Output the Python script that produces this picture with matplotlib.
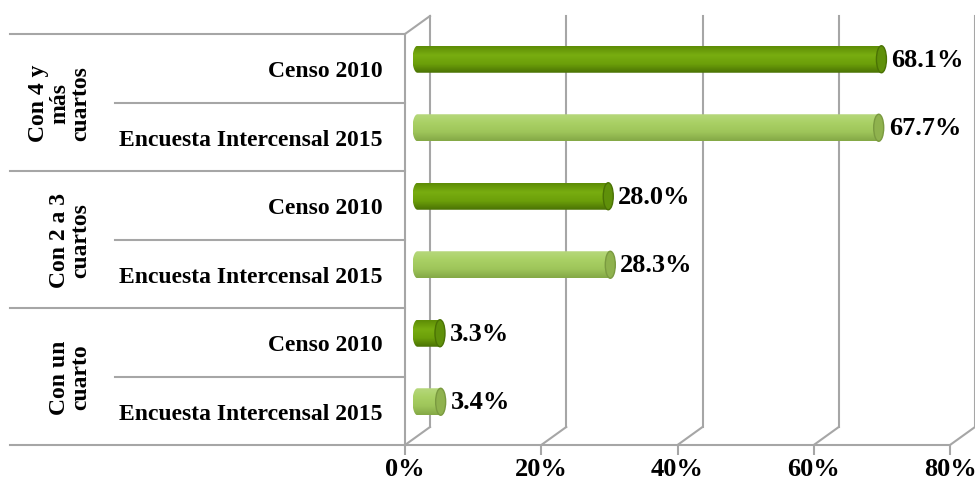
import numpy as np
import matplotlib.pyplot as plt
from matplotlib.patches import Ellipse, Polygon
from matplotlib.colors import LinearSegmentedColormap

# datos del grafico
grupos = ['Con 4 y\nmás\ncuartos', 'Con 2 a 3\ncuartos', 'Con un\ncuarto']
fuentes = ['Censo 2010', 'Encuesta Intercensal 2015']
censo_2010 = [68.1, 28.0, 3.3]
intercensal_2015 = [67.7, 28.3, 3.4]
ticks_x = [0, 20, 40, 60, 80]

plt.rcParams['font.family'] = ['Liberation Serif', 'DejaVu Serif']
plt.rcParams['font.weight'] = 'bold'

fig = plt.figure(figsize=(9.75, 4.85), dpi=100)
ax = fig.add_axes([405 / 975, 39 / 485, 545 / 975, 411 / 485])

n_filas = 2 * len(grupos)
ax.set_xlim(0, 80)
ax.set_ylim(0, n_filas)

# escala en pixeles para el efecto 3D
px_x = 545 / 80
px_y = 411 / n_filas
dx = 25 / px_x
dy = 18 / px_y
gris = '#a6a6a6'

# pared del fondo y piso
for t in ticks_x:
    ax.plot([t + dx, t + dx], [dy, n_filas + dy], color=gris, lw=1.5, clip_on=False, zorder=1)
    ax.plot([t, t + dx], [0, dy], color=gris, lw=1.5, clip_on=False, zorder=1)
ax.plot([0, dx], [n_filas, n_filas + dy], color=gris, lw=1.5, clip_on=False, zorder=1)

# tabla de categorias a la izquierda
x_ext = (10 - 405) / px_x
x_int = (115 - 405) / px_x
for k in range(n_filas + 1):
    x_ini = x_ext if k % 2 == 0 else x_int
    ax.plot([x_ini, 0], [k, k], color=gris, lw=1.5, clip_on=False)

filas_censo = [n_filas - 0.5 - 2 * i for i in range(len(grupos))]
filas_inter = [n_filas - 1.5 - 2 * i for i in range(len(grupos))]

for i, g in enumerate(grupos):
    ax.text((91 - 405) / px_x, n_filas - 1 - 2 * i, g, rotation=90, ha='right', va='center',
            multialignment='center', fontsize=17, linespacing=1.0, clip_on=False)

# cilindros
alto = 27 / px_y
a = 5 / px_x
oscuro = ['#5d8c06', '#78ad10', '#6c9f0a', '#4a7204']
claro = ['#b6d87c', '#a9d064', '#9ec55a', '#84a846']


def cilindro(rect, colores, tapa, borde):
    x0 = rect.get_x()
    x1 = x0 + rect.get_width()
    y0 = rect.get_y()
    y1 = y0 + rect.get_height()
    yc = (y0 + y1) / 2
    b = (y1 - y0) / 2
    t = np.linspace(np.pi / 2, 3 * np.pi / 2, 40)
    pts = np.column_stack([x0 + a * np.cos(t), yc + b * np.sin(t)])
    pts = np.vstack([pts, [[x1, y0], [x1, y1]]])
    clip = Polygon(pts, closed=True, transform=ax.transData, facecolor='none', edgecolor='none')
    ax.add_patch(clip)
    cmap = LinearSegmentedColormap.from_list('c', colores)
    grad = np.linspace(0, 1, 100).reshape(-1, 1)
    im = ax.imshow(grad, cmap=cmap, extent=[x0 - a, x1, y0, y1], origin='upper',
                   aspect='auto', interpolation='bilinear', zorder=3)
    im.set_clip_path(clip)
    ax.add_patch(Ellipse((x1, yc), 2 * a, 2 * b, facecolor=tapa, edgecolor=borde, lw=1, zorder=4))
    rect.set_visible(False)
    return x1 + a


for filas, valores, colores, tapa, borde in [
        (filas_censo, censo_2010, oscuro, '#5f900a', '#4a7204'),
        (filas_inter, intercensal_2015, claro, '#8fb24e', '#7a9a40')]:
    ys = [f + dy / 2 for f in filas]
    barras = ax.barh(ys, valores, left=dx / 2, height=alto, color=colores[1], zorder=3)
    for rect, v, y in zip(barras, valores, ys):
        fin = cilindro(rect, colores, tapa, borde)
        ax.text(fin + 5 / px_x, y, f'{v:.1f}%', ha='left', va='center', fontsize=19, clip_on=False)

ax.set_xlim(0, 80)
ax.set_ylim(0, n_filas)

# ejes
ax.set_xticks(ticks_x, [f'{t}%' for t in ticks_x])
ax.set_yticks(filas_censo + filas_inter, [fuentes[0]] * len(grupos) + [fuentes[1]] * len(grupos))
ax.tick_params(axis='x', length=7, width=1.5, color=gris, labelsize=19, pad=2)
ax.tick_params(axis='y', length=0, labelsize=17, pad=16)
for s in ['top', 'right']:
    ax.spines[s].set_visible(False)
for s in ['bottom', 'left']:
    ax.spines[s].set_color(gris)
    ax.spines[s].set_linewidth(1.5)
ax.set_facecolor('none')

fig.savefig('out.png', dpi=100)
